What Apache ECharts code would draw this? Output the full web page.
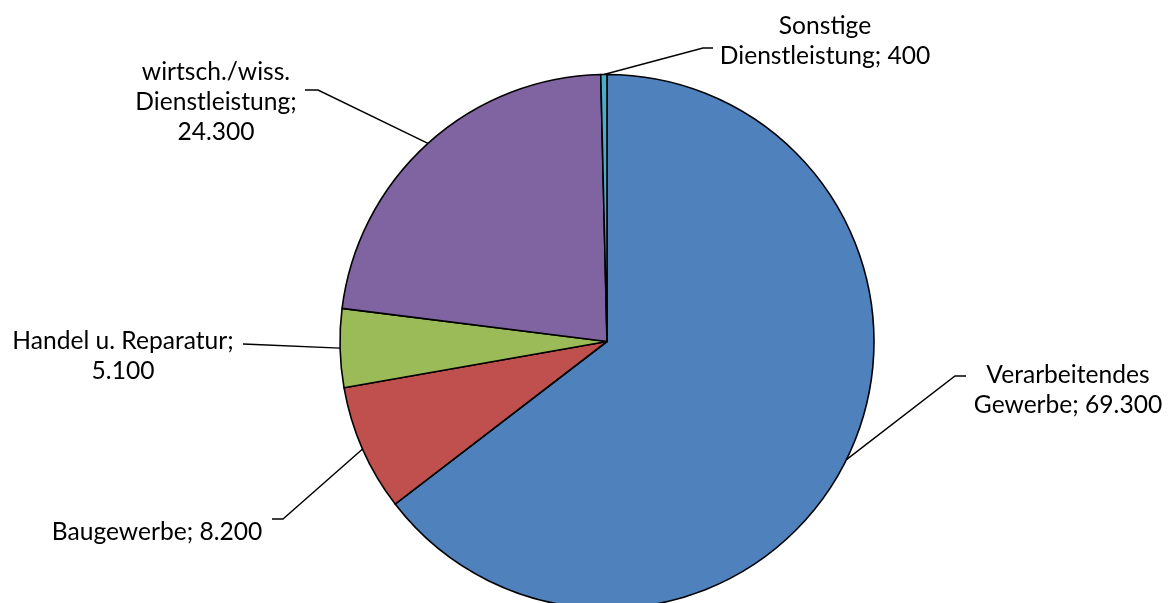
<!DOCTYPE html>
<html>
<head>
<meta charset="utf-8">
<script src="https://cdn.jsdelivr.net/npm/echarts@6/dist/echarts.min.js"></script>
<style>
  html, body { margin: 0; padding: 0; background: #ffffff; }
  #chart { width: 1168px; height: 603px; }
</style>
</head>
<body>
<div id="chart"></div>
<script>
// Beschäftigte nach Wirtschaftszweigen
const categories = ['Verarbeitendes\nGewerbe', 'Baugewerbe', 'Handel u. Reparatur', 'wirtsch./wiss.\nDienstleistung', 'Sonstige\nDienstleistung'];
const values = [69300, 8200, 5100, 24300, 400];
const valueSeparators = ['; ', '; ', ';\n', ';\n', '; '];
const colors = ['#4F81BD', '#C0504D', '#9BBB59', '#8064A2', '#4BACC6'];

// where each label sits, plus the knee and end of its leader line
const labelPlacement = [
  { x: 1068, y: 390, knee: [955, 376], end: [966, 376] },
  { x: 157,  y: 532, knee: [283, 519], end: [272, 519] },
  { x: 123,  y: 356, knee: [255, 344.5], end: [243, 344] },
  { x: 216,  y: 102, knee: [318, 90], end: [305, 90] },
  { x: 825,  y: 41,  knee: [703, 48], end: [713, 48] }
];

function formatDe(v) {
  return String(v).replace(/\B(?=(\d{3})+(?!\d))/g, '.');
}

const chart = echarts.init(document.getElementById('chart'), null, { renderer: 'canvas' });

chart.setOption({
  animation: false,
  backgroundColor: '#ffffff',
  series: [{
    type: 'pie',
    center: [607, 341.5],
    radius: 267,
    startAngle: 90,
    clockwise: true,
    avoidLabelOverlap: false,
    data: categories.map((name, i) => ({
      name: name,
      value: values[i],
      itemStyle: { color: colors[i] }
    })),
    itemStyle: { borderColor: '#000000', borderWidth: 1.6 },
    label: {
      show: true,
      position: 'outside',
      color: '#000000',
      fontFamily: 'Lato',
      fontSize: 24.6,
      lineHeight: 30,
      align: 'center',
      formatter: p => p.name + valueSeparators[p.dataIndex] + formatDe(p.value)
    },
    labelLine: {
      show: true,
      length: 20,
      length2: 10,
      lineStyle: { color: '#000000', width: 1.4 }
    },
    labelLayout: function (params) {
      const pl = labelPlacement[params.dataIndex];
      const start = params.labelLinePoints ? params.labelLinePoints[0] : pl.knee;
      return {
        x: pl.x,
        y: pl.y,
        align: 'center',
        verticalAlign: 'middle',
        labelLinePoints: [start, pl.knee, pl.end]
      };
    },
    emphasis: { disabled: true }
  }]
});
</script>
</body>
</html>
